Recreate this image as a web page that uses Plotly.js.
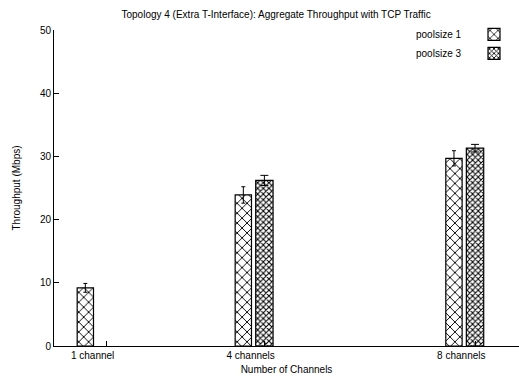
<!DOCTYPE html>
<html>
<head>
<meta charset="utf-8">
<script src="https://cdn.plot.ly/plotly-3.0.1.min.js"></script>
<style>html,body{margin:0;padding:0;background:#fff;}#chart{width:519px;height:379px;}</style>
</head>
<body>
<div id="chart"></div>
<script>
var channels = [1, 4, 8];
var channelLabels = ["1 channel", "4 channels", "8 channels"];
var seriesNames = ["poolsize 1", "poolsize 3"];
var pool1 = [9.2, 23.9, 29.7];
var pool1Err = [0.7, 1.3, 1.2];
var pool3 = [null, 26.2, 31.3];
var pool3Err = [null, 0.8, 0.6];

var font = "Liberation Sans, Arial, sans-serif";

var traces = [
  {
    type: "bar", x: channels, y: pool1, name: "", showlegend: true,
    offset: -0.56, width: 0.31,
    marker: {color: "#ffffff", line: {color: "#000", width: 1.2},
      pattern: {shape: "x", size: 7, solidity: 0.25, fgcolor: "#000", bgcolor: "#fff"}},
    error_y: {type: "data", array: pool1Err, visible: true, color: "#000", thickness: 1, width: 2}
  },
  {
    type: "bar", x: channels, y: pool3, name: "", showlegend: true,
    offset: -0.17, width: 0.33,
    marker: {color: "#ffffff", line: {color: "#000", width: 1.2},
      pattern: {shape: "x", size: 4, solidity: 0.45, fgcolor: "#000", bgcolor: "#fff"}},
    error_y: {type: "data", array: pool3Err, visible: true, color: "#000", thickness: 1, width: 4}
  }
];

var layout = {
  width: 519, height: 379,
  margin: {l: 54, r: 0, t: 30, b: 33},
  paper_bgcolor: "#fff", plot_bgcolor: "#fff",
  font: {family: font, size: 10, color: "#000"},
  title: {text: "Topology 4 (Extra T-Interface): Aggregate Throughput with TCP Traffic",
    font: {family: font, size: 10, color: "#000"}, x: 0.532, xanchor: "center", y: 0.962, yanchor: "middle"},
  barmode: "overlay",
  showlegend: true,
  legend: {x: 1, xanchor: "right", y: 1.032, yanchor: "top", bgcolor: "rgba(0,0,0,0)", borderwidth: 0,
    font: {family: font, size: 10}, tracegroupgap: 0, itemwidth: 30, traceorder: "normal"},
  xaxis: {
    range: [0, 8.83], tickvals: channels, ticktext: channelLabels,
    ticks: "inside", ticklen: 5, tickcolor: "#000", tickwidth: 1,
    showline: true, linecolor: "#000", linewidth: 1, mirror: false,
    showgrid: false, zeroline: false, ticklabelshift: -14,
    tickfont: {family: font, size: 10, color: "#000"},
    title: {text: "Number of Channels", font: {family: font, size: 10, color: "#000"}, standoff: 5}
  },
  xaxis2: {
    overlaying: "x", side: "top", anchor: "y", matches: "x",
    range: [0, 8.83], tickvals: channels, showticklabels: false,
    ticks: "inside", ticklen: 5, tickcolor: "#000", tickwidth: 1,
    showline: true, linecolor: "#000", linewidth: 1, mirror: false,
    showgrid: false, zeroline: false
  },
  yaxis: {
    range: [0, 50], dtick: 10,
    ticks: "inside", ticklen: 5, tickcolor: "#000", tickwidth: 1,
    showline: true, linecolor: "#000", linewidth: 1, mirror: false,
    showgrid: false, zeroline: false,
    tickfont: {family: font, size: 10, color: "#000"},
    title: {text: "Throughput (Mbps)", font: {family: font, size: 10, color: "#000"}, standoff: 17}
  },
  annotations: [
    {xref: "paper", yref: "paper", x: 0.88, y: 0.987, xanchor: "right", yanchor: "middle",
     text: seriesNames[0], showarrow: false, font: {family: font, size: 10, color: "#000"}},
    {xref: "paper", yref: "paper", x: 0.88, y: 0.927, xanchor: "right", yanchor: "middle",
     text: seriesNames[1], showarrow: false, font: {family: font, size: 10, color: "#000"}}
  ]
};

Plotly.newPlot("chart", traces, layout, {displayModeBar: false, staticPlot: true});
</script>
</body>
</html>
